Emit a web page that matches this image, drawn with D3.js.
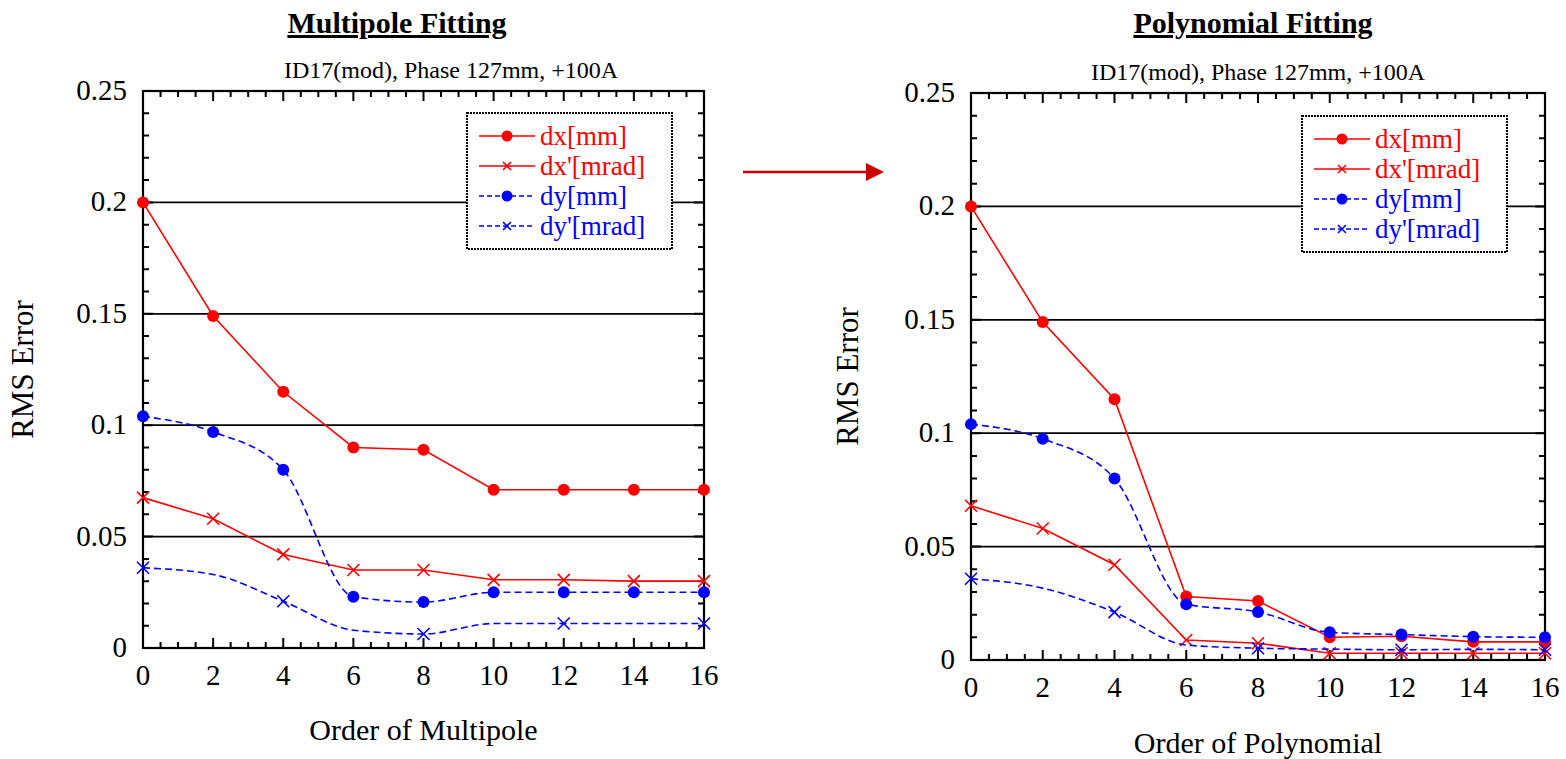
<!DOCTYPE html>
<html>
<head>
<meta charset="utf-8">
<script src="https://cdn.jsdelivr.net/npm/d3@7"></script>
<style>
  body { margin: 0; background: #fff; }
  text { font-family: "Liberation Serif", "Times New Roman", serif; }
</style>
</head>
<body>
<div id="main"></div>
<script>
var WIDTH = 1566
var HEIGHT = 759

// x values (order)
var orders = [0, 2, 4, 6, 8, 10, 12, 14, 16]
var xTicks = [0, 2, 4, 6, 8, 10, 12, 14, 16]
var yTicks = [0, 0.05, 0.1, 0.15, 0.2, 0.25]
var yTickLabels = ["0", "0.05", "0.1", "0.15", "0.2", "0.25"]
var seriesNames = ["dx[mm]", "dx'[mrad]", "dy[mm]", "dy'[mrad]"]

// multipole fitting
var multDx = [0.200, 0.149, 0.115, 0.090, 0.089, 0.071, 0.071, 0.071, 0.071]
var multDxp = [0.0675, 0.058, 0.042, 0.035, 0.035, 0.0306, 0.0306, 0.030, 0.030]
var multDy = [0.104, 0.097, 0.080, 0.023, 0.0206, 0.025, 0.025, 0.025, 0.025]
var multDyp = [0.036, 0.033, 0.021, 0.008, 0.0063, 0.011, 0.011, 0.011, 0.011]

// polynomial fitting
var polyDx = [0.200, 0.149, 0.115, 0.028, 0.026, 0.010, 0.0105, 0.008, 0.008]
var polyDxp = [0.068, 0.058, 0.042, 0.0088, 0.0074, 0.003, 0.003, 0.003, 0.003]
var polyDy = [0.104, 0.0975, 0.080, 0.0246, 0.0212, 0.0122, 0.0112, 0.0103, 0.010]
var polyDyp = [0.0358, 0.0317, 0.0211, 0.0066, 0.0052, 0.0048, 0.0045, 0.0047, 0.0045]

const svg = d3.select('#main').append("svg")
    .attr('width', WIDTH)
    .attr('height', HEIGHT)

// style per series: colour, marker, dashed, smooth, marker step
var styles = [
    { color: '#ff0000', marker: 'dot', dash: null, curve: d3.curveLinear, step: 1 },
    { color: '#ff0000', marker: 'cross', dash: null, curve: d3.curveLinear, step: 1 },
    { color: '#0000ff', marker: 'dot', dash: '7,4', curve: d3.curveMonotoneX, step: 1 },
    { color: '#0000ff', marker: 'cross', dash: '7,4', curve: d3.curveMonotoneX, step: 2 }
]

function drawMarker(g, type, x, y, color, s) {
    if (type == 'dot') {
        g.append('circle').attr('cx', x).attr('cy', y).attr('r', s).attr('fill', color)
    } else {
        g.append('path')
            .attr('d', 'M' + (x - s) + ',' + (y - s) + 'L' + (x + s) + ',' + (y + s) +
                'M' + (x - s) + ',' + (y + s) + 'L' + (x + s) + ',' + (y - s))
            .attr('stroke', color).attr('stroke-width', 1.6).attr('fill', 'none')
    }
}

function drawPanel(p) {
    var x = d3.scaleLinear().domain([0, 16]).range([p.left, p.right])
    var y = d3.scaleLinear().domain([0, 0.25]).range([p.bottom, p.top])
    var g = svg.append('g')

    // grid lines
    g.selectAll(null)
        .data(yTicks.slice(1, 5))
        .enter().append('line')
        .attr('x1', p.left).attr('x2', p.right)
        .attr('y1', d => y(d)).attr('y2', d => y(d))
        .attr('stroke', '#000').attr('stroke-width', 1.8)

    // inward ticks on all four sides, one path
    var minorX = d3.range(0, 16.01, 0.5)
    var minorY = d3.range(0, 0.2501, 0.01)
    var dTicks = ''
    minorX.forEach(function (v) {
        var len = v % 2 == 0 ? 10 : 6
        var px = x(v)
        dTicks += 'M' + px + ',' + p.bottom + 'V' + (p.bottom - len)
        dTicks += 'M' + px + ',' + p.top + 'V' + (p.top + len)
    })
    minorY.forEach(function (v, i) {
        var len = i % 5 == 0 ? 10 : 6
        var py = y(v)
        dTicks += 'M' + p.left + ',' + py + 'H' + (p.left + len)
        dTicks += 'M' + p.right + ',' + py + 'H' + (p.right - len)
    })
    g.append('path')
        .attr('d', dTicks)
        .attr('fill', 'none')
        .attr('stroke', '#000')
        .attr('stroke-width', 2)

    // frame
    g.append('rect')
        .attr('x', p.left).attr('y', p.top)
        .attr('width', p.right - p.left).attr('height', p.bottom - p.top)
        .attr('fill', 'none').attr('stroke', '#000').attr('stroke-width', 2.2)

    // tick labels
    g.selectAll(null)
        .data(xTicks)
        .enter().append('text')
        .attr('x', d => x(d)).attr('y', p.bottom + 37)
        .attr('text-anchor', 'middle').attr('font-size', 29)
        .text(d => d)
    g.selectAll(null)
        .data(yTicks)
        .enter().append('text')
        .attr('x', p.left - 16).attr('y', d => y(d) + 9)
        .attr('text-anchor', 'end').attr('font-size', 29)
        .text((d, i) => yTickLabels[i])

    // titles
    var cx = (p.left + p.right) / 2
    g.append('text').attr('x', p.titleX).attr('y', 33)
        .attr('text-anchor', 'middle').attr('font-size', 30).attr('font-weight', 'bold')
        .attr('text-decoration', 'underline')
        .text(p.title)
    g.append('text').attr('x', p.subX).attr('y', p.top - 13)
        .attr('text-anchor', 'middle').attr('font-size', 24)
        .text('ID17(mod), Phase 127mm, +100A')
    g.append('text').attr('x', cx).attr('y', p.xLabelY)
        .attr('text-anchor', 'middle').attr('font-size', 30)
        .text(p.xLabel)
    g.append('text')
        .attr('transform', 'translate(' + p.yLabelX + ',' + ((p.top + p.bottom) / 2) + ') rotate(-90)')
        .attr('text-anchor', 'middle').attr('font-size', 31)
        .text('RMS Error')

    // series
    p.data.forEach(function (vals, k) {
        var st = styles[k]
        var pts = orders.map((o, i) => [o, vals[i]])
        var line = d3.line().x(d => x(d[0])).y(d => y(d[1])).curve(st.curve)
        g.append('path')
            .attr('d', line(pts))
            .attr('fill', 'none')
            .attr('stroke', st.color)
            .attr('stroke-width', 1.6)
            .attr('stroke-dasharray', st.dash)
        pts.forEach(function (d, i) {
            if (i % st.step == 0) drawMarker(g, st.marker, x(d[0]), y(d[1]), st.color, 6)
        })
    })

    // legend
    var lg = g.append('g')
    lg.append('rect')
        .attr('x', p.legX).attr('y', p.legY)
        .attr('width', 205).attr('height', 136)
        .attr('fill', '#fff').attr('stroke', '#000').attr('stroke-width', 2)
        .attr('stroke-dasharray', '2,1')
    seriesNames.forEach(function (name, k) {
        var st = styles[k]
        var ly = p.legY + 23 + k * 30
        lg.append('line')
            .attr('x1', p.legX + 12).attr('x2', p.legX + 68)
            .attr('y1', ly).attr('y2', ly)
            .attr('stroke', st.color).attr('stroke-width', 1.4)
            .attr('stroke-dasharray', st.dash ? '5,3' : null)
        drawMarker(lg, st.marker, p.legX + 40, ly, st.color, st.marker == 'dot' ? 5.5 : 4)
        lg.append('text')
            .attr('x', p.legX + 73).attr('y', ly + 9)
            .attr('font-size', 27).attr('fill', st.color)
            .text(name)
    })
}

drawPanel({
    left: 143, right: 704, top: 91, bottom: 648,
    title: 'Multipole Fitting', titleX: 397, subX: 451,
    xLabel: 'Order of Multipole', xLabelY: 740, yLabelX: 33,
    legX: 467, legY: 113,
    data: [multDx, multDxp, multDy, multDyp]
})

drawPanel({
    left: 971, right: 1545, top: 93, bottom: 660,
    title: 'Polynomial Fitting', titleX: 1253, subX: 1258,
    xLabel: 'Order of Polynomial', xLabelY: 753, yLabelX: 858,
    legX: 1302, legY: 116,
    data: [polyDx, polyDxp, polyDy, polyDyp]
})

// arrow between the panels
svg.append('line')
    .attr('x1', 743).attr('x2', 868)
    .attr('y1', 172).attr('y2', 172)
    .attr('stroke', '#cc0000').attr('stroke-width', 2.5)
svg.append('path')
    .attr('d', 'M866,163L884,172L866,181Z')
    .attr('fill', '#cc0000')
</script>
</body>
</html>
